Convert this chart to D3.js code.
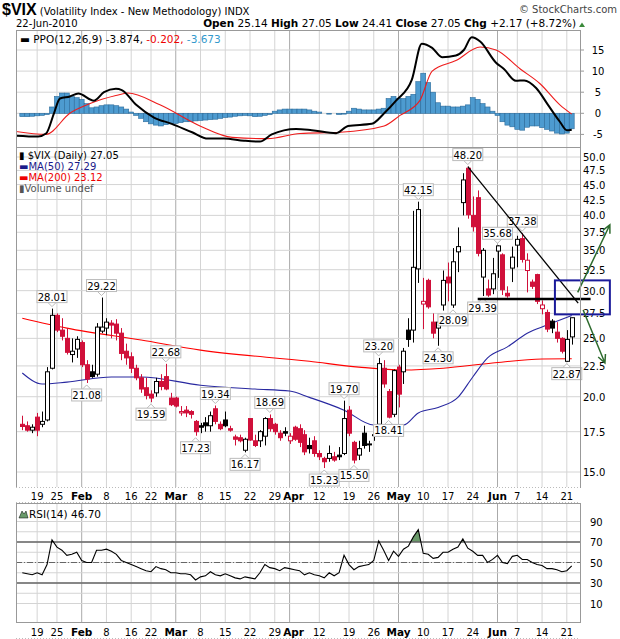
<!DOCTYPE html>
<html><head><meta charset="utf-8">
<script src="https://cdn.jsdelivr.net/npm/d3@7/dist/d3.min.js"></script>
<style>body{margin:0;background:#fff}svg{display:block}text{font-family:"DejaVu Sans",Verdana,sans-serif}</style>
</head><body><svg id="c" width="620" height="639"></svg>
<script>
// ---- DATA ----
// daily OHLC, 112 sessions 13-Jan-2010 .. 22-Jun-2010 (index = session number)
const opens =  [18.0,17.9,17.6,18.5,18.0,18.3,22.3,27.3,25.8,25.0,23.5,24.0,24.6,22.6,22.0,21.8,25.7,26.0,26.5,26.4,25.5,23.8,23.3,22.3,21.5,20.7,20.2,20.3,21.2,21.6,19.9,19.9,18.8,19.0,18.9,18.2,17.9,18.1,17.9,19.1,18.0,18.3,17.7,17.15,17.1,16.3,18.4,16.9,16.9,17.2,18.4,18.0,17.4,17.5,16.9,17.8,17.7,17.3,16.6,16.9,16.1,15.8,15.8,15.9,16.0,16.1,19.0,16.8,16.0,17.4,16.7,17.3,18.0,22.3,20.4,18.7,22.4,22.0,25.8,25.8,32.6,28.5,31.2,26.6,26.0,28.4,31.6,28.4,34.8,42.0,47.9,40.0,42.8,31.6,30.2,30.2,34.9,34.4,29.7,32.7,35.7,36.6,32.4,31.0,31.9,28.0,27.6,26.7,25.6,25.0,22.9,25.14];
const highs =  [18.6,18.2,18.0,18.8,18.9,22.4,28.01,27.5,27.0,26.0,25.0,25.2,24.8,23.0,22.6,26.5,29.22,27.0,26.8,26.9,26.0,24.5,23.7,22.6,21.8,21.5,20.5,21.5,21.8,22.68,20.3,20.0,19.3,19.3,19.0,18.3,18.1,18.5,18.9,19.34,18.2,18.9,17.9,17.3,17.3,17.1,18.4,17.3,17.6,18.5,18.69,18.1,17.6,17.8,17.4,17.9,18.0,17.6,17.1,17.2,16.3,15.9,16.6,16.2,16.5,19.70,19.3,16.9,16.9,17.9,16.9,17.5,23.20,23.0,20.6,22.2,22.6,24.1,27.0,40.7,42.15,31.5,31.4,27.5,26.7,32.4,33.4,35.3,38.2,47.0,48.20,43.0,44.0,35.3,31.3,34.0,35.68,34.6,30.5,35.5,37.0,37.38,34.6,31.3,32.0,28.9,27.9,26.9,26.6,25.1,25.8,27.05];
const lows =   [17.6,17.5,17.4,17.2,17.8,18.2,22.2,25.6,24.8,23.5,22.8,23.2,22.4,21.08,21.5,21.6,25.5,25.3,25.0,24.8,23.0,22.6,21.9,21.3,20.3,19.8,19.59,20.0,20.5,20.5,19.3,19.2,18.6,18.5,18.4,17.23,17.4,17.5,17.5,18.0,17.6,17.8,17.5,16.6,16.8,16.17,16.9,16.5,16.5,16.6,17.5,17.3,16.9,17.2,16.7,16.9,16.5,16.0,16.1,15.9,15.7,15.23,15.6,15.6,15.7,16.0,17.2,15.50,15.7,16.4,16.2,16.9,17.9,20.7,18.41,18.5,19.2,21.0,24.2,24.6,30.9,25.9,28.0,25.0,24.30,27.8,28.8,28.09,32.2,40.0,39.5,37.6,34.2,29.39,29.3,29.6,31.5,29.5,29.2,31.0,32.8,33.4,29.8,30.2,28.5,27.4,25.6,25.5,24.6,23.6,22.87,24.41];
const closes = [17.85,17.6,17.8,17.6,18.2,22.0,27.3,25.8,25.2,23.7,23.8,24.9,22.6,21.4,21.6,26.1,26.1,26.6,26.3,25.5,23.6,23.2,22.3,21.5,20.6,20.1,19.9,21.2,20.8,20.6,19.4,19.3,18.9,18.8,18.7,17.5,17.8,17.9,18.6,18.2,17.7,17.9,17.6,17.0,16.9,17.0,16.95,16.6,17.5,18.4,17.7,17.5,17.1,17.4,17.2,17.0,16.8,16.2,16.4,16.1,15.9,15.6,16.1,15.7,15.9,18.4,17.4,15.7,16.4,16.6,16.7,17.3,22.7,21.0,18.5,22.1,20.2,23.8,24.9,32.8,40.9,28.8,28.2,25.5,26.6,31.2,30.9,33.5,35.5,45.8,40.1,38.3,34.6,35.0,29.5,32.0,35.6,30.1,29.4,34.1,36.5,33.8,33.7,30.5,28.8,28.4,25.9,26.0,25.0,23.8,24.9,27.05];
// moving averages: [session, value]
const ma50  = [[0,21.9],[4,21.0],[9,21.15],[18,21.57],[24,21.57],[36,20.9],[47,20.6],[54,20.44],[58,19.95],[65,19.0],[71,17.95],[77,17.95],[80,18.8],[84,19.2],[88,19.95],[91,21.57],[94,23.2],[98,24.2],[102,25.5],[106,26.3],[111,27.29]];
const ma200 = [[0,27.0],[9,26.0],[24,24.84],[36,23.9],[58,22.9],[68,22.4],[77,22.15],[85,22.3],[95,22.75],[105,23.1],[111,23.12]];
// PPO(12,26,9): [session, value]
const ppoLine = [[-1.3,-5.3],[3.2,-5.5],[4.8,-4.8],[6.4,0],[7.6,3.5],[9.6,4],[11.3,4.7],[14.5,3],[16.5,5],[18.9,5.8],[20.1,5.5],[23,2],[26.6,-1],[30.2,-2.5],[34.3,-4.5],[37.5,-6],[40.7,-6],[44.8,-6.5],[48,-6.7],[50.4,-5],[55.3,-3.7],[58.5,-4],[63.4,-4.7],[65.8,-3],[70.6,-2.5],[73.1,0],[75.5,3],[78.7,8],[80.7,16.5],[82.8,15.5],[84.8,13.3],[87.6,13.7],[89.2,15],[90.8,18],[92.5,17],[95.7,12],[97.3,10.5],[99.7,7.7],[101.4,7.8],[103.8,6],[106.2,2],[108.6,-2],[110,-4],[111,-3.874]];
const ppoSignal = [[-1.3,-4.3],[4.8,-5],[9.6,0],[13.7,2.3],[18.9,4.2],[21.3,4.8],[27.8,2],[35.9,-3],[42.4,-5.7],[49.6,-6],[56.1,-4.8],[64.2,-4.5],[73.1,-3],[76.3,-0.5],[80.3,3],[82.8,10],[87.6,12.5],[92.5,15.7],[95.7,15],[100.6,10.5],[104.6,7],[108.6,2],[111,-0.202]];
const ppoHist = [-0.8,-0.8,-0.7,-0.6,-0.5,-0.3,1.5,4,4.8,4.8,4,3.7,3.3,2.3,1.3,1.5,1.8,2,2,1.8,1.5,1,0.3,-0.5,-1.2,-2,-2.5,-2.8,-3,-2.7,-2.5,-2.4,-2.2,-2,-2,-1.8,-1.7,-1.6,-1.5,-1.4,-1.2,-1,-0.9,-0.7,-0.6,-0.5,-0.6,-0.8,-0.7,-0.5,-0.3,0.5,0.8,1,1,1,1,1,0.8,0.5,0.3,0,-0.2,0,-0.3,-0.2,0.5,1.2,1,0.8,0.8,0.8,1,1.2,3.5,4,3.5,3.5,4,4.5,7.5,9.5,7.3,5,2.5,1.7,1.7,1.5,1.5,1.7,2,3.7,3.3,2.3,1.5,0.5,-0.5,-2,-2.8,-3.2,-3.8,-4,-3.3,-3,-3,-3.4,-3.8,-4.2,-4.7,-4.9,-4.7,-3.673];
const rsi = [40,39,38,40,38,48,72,65,62,57,58,60,52,50,50,62,62,63,61,58,52,50,48,46,44,42,41,46,44,43,40,40,39,39,38,33,36,37,41,38,37,39,37,35,34,36,35,34,40,48,45,44,42,45,44,43,42,38,40,38,37,35,40,37,40,57,48,43,46,47,48,52,71,62,52,61,56,63,66,75,82,59,58,54,55,60,60,63,65,73,64,61,57,57,50,53,57,50,49,56,57,53,53,50,48,47,44,44,43,41,42,46.7];
// date axis: [session, label, month?]
const dateTicks = [[3,"19",0],[7,"25",0],[12,"Feb",1],[17,"8",0],[22,"16",0],[26,"22",0],[31,"Mar",1],[36,"8",0],[41,"15",0],[46,"22",0],[51,"29",0],[54,"Apr",1],[60,"12",0],[66,"19",0],[71,"26",0],[76,"May",1],[81,"10",0],[86,"17",0],[91,"24",0],[96,"Jun",1],[100,"7",0],[105,"14",0],[110,"21",0]];
const priceTicks = [15,17.5,20,22.5,25,27.5,30,32.5,35,37.5,40,42.5,45,47.5,50];
const ppoTicks = [15,10,5,0,-5];
const rsiTicks = [90,70,50,30,10];
// annotated highs / lows: [session, value, "h"|"l"]
const notes = [[6,28.01,"h"],[16,29.22,"h"],[29,22.68,"h"],[39,19.34,"h"],[50,18.69,"h"],[65,19.70,"h"],[72,23.20,"h"],[80,42.15,"h"],[90,48.20,"h"],[96,35.68,"h"],[101,37.38,"h"],
  [13,21.08,"l"],[26,19.59,"l"],[35,17.23,"l"],[45,16.17,"l"],[61,15.23,"l"],[67,15.50,"l"],[74,18.41,"l"],[84,24.30,"l"],[87,28.09,"l"],[93,29.39,"l"],[110,22.87,"l"]];
// hand-drawn annotations in data terms [session, price]
const trendDown = [[90,48.2],[112.3,28.6]];
const support = [[92,29.05],[114.8,29.05]];
const box = [[107.6,31.2],[118.7,27.4]];
const arrowUp = [[112.2,29.8],[118.7,38.6]];
const arrowDn = [[113.3,27.86],[117.7,22.75]];

// ---- CHART ----
const svg = d3.select("#c");
const L=16, R=580, RED="#d0103a";
const x = d3.scaleLinear().domain([0,111]).range([22.3,571.75]);
const P = {top:30,bot:147}, M={top:147,bot:487}, Q={top:503,bot:622};
const yP = d3.scaleLinear().domain([0,15]).range([113.3,50]);
const yM = d3.scaleLog().domain([15,50]).range([472,157]);
const yR = d3.scaleLinear().domain([50,70]).range([562.5,542]);
const grid="#d4d4d4";

function panel(p){
  svg.append("rect").attr("x",L).attr("y",p.top).attr("width",R-L).attr("height",p.bot-p.top).attr("fill","#fff");
}
function vgrid(p){
  dateTicks.forEach(t=>svg.append("line").attr("x1",x(t[0])).attr("x2",x(t[0])).attr("y1",p.top).attr("y2",p.bot)
    .attr("stroke",t[2]?"#aaa":grid).attr("stroke-width",1));
}
function border(p){
  svg.append("rect").attr("x",L+0.5).attr("y",p.top+0.5).attr("width",R-L).attr("height",p.bot-p.top).attr("fill","none").attr("stroke","#999");
}
[P,M,Q].forEach(p=>{panel(p);vgrid(p);});
function clip(id,p){svg.append("clipPath").attr("id",id).append("rect").attr("x",L).attr("y",p.top).attr("width",R-L).attr("height",p.bot-p.top);}
clip("cP",P);clip("cM",M);clip("cQ",Q);

// header
const hd = svg.append("text").attr("x",2).attr("y",15);
hd.append("tspan").text("$VIX").attr("font-weight","bold").attr("font-size",16).attr("font-family","Liberation Sans,Arial");
hd.append("tspan").text(" (Volatility Index - New Methodology) INDX").attr("font-size",10);
svg.append("text").attr("x",617).attr("y",13).attr("text-anchor","end").attr("font-size",10).attr("fill","#444").text("© StockCharts.com");
svg.append("text").attr("x",16).attr("y",27).attr("font-size",10).text("22-Jun-2010");
const ohlc = svg.append("text").attr("x",576).attr("y",27).attr("text-anchor","end").attr("font-size",10.5).attr("font-family","Liberation Sans,Arial");
[["Open"," 25.14  "],["High"," 27.05  "],["Low"," 24.41  "],["Close"," 27.05  "],["Chg"," +2.17 (+8.72%)"]].forEach(a=>{
  ohlc.append("tspan").attr("font-weight","bold").text(a[0]); ohlc.append("tspan").text(a[1]);});
svg.append("path").attr("d","M579,27 l3,-4.5 l3,4.5 z").attr("fill","#3a8a3a");

// PPO panel
ppoTicks.forEach(v=>{svg.append("line").attr("x1",L).attr("x2",R).attr("y1",yP(v)).attr("y2",yP(v)).attr("stroke",grid);
  svg.append("text").attr("x",598).attr("y",yP(v)+4).attr("text-anchor","middle").attr("font-size",10).text(v);
  svg.append("line").attr("x1",R).attr("x2",R+4).attr("y1",yP(v)).attr("y2",yP(v)).attr("stroke","#999");});
const gP = svg.append("g").attr("clip-path","url(#cP)");
gP.selectAll("rect.h").data(ppoHist).join("rect").attr("x",(d,i)=>x(i)-2.5).attr("width",4.95)
  .attr("y",d=>Math.min(yP(d),yP(0))).attr("height",d=>Math.abs(yP(d)-yP(0)))
  .attr("fill","#4d9bd0").attr("stroke","#2a6a9a").attr("stroke-width",0.6);
const lnP = d3.line().x(d=>x(d[0])).y(d=>yP(d[1])).curve(d3.curveMonotoneX);
gP.append("path").attr("d",lnP(ppoSignal)).attr("fill","none").attr("stroke","#ee1c1c").attr("stroke-width",1.1);
gP.append("path").attr("d",lnP(ppoLine)).attr("fill","none").attr("stroke","#000").attr("stroke-width",2);
const pl = svg.append("text").attr("x",20).attr("y",43).attr("font-size",10.5);
pl.append("tspan").text("▬ PPO(12,26,9) -3.874, ");
pl.append("tspan").attr("fill","#e00").text("-0.202, ");
pl.append("tspan").attr("fill","#3399cc").text("-3.673");
border(P);

// price panel
priceTicks.forEach(v=>{svg.append("line").attr("x1",L).attr("x2",R).attr("y1",yM(v)).attr("y2",yM(v)).attr("stroke",grid);
  svg.append("text").attr("x",583).attr("y",yM(v)+4).attr("font-size",10).text(v.toFixed(1));});
const gM = svg.append("g").attr("clip-path","url(#cM)");
const lnM = d3.line().x(d=>x(d[0])).y(d=>yM(d[1])).curve(d3.curveMonotoneX);
gM.append("path").attr("d",lnM(ma200)).attr("fill","none").attr("stroke","#f00").attr("stroke-width",1.1);
gM.append("path").attr("d",lnM(ma50)).attr("fill","none").attr("stroke","#2828a0").attr("stroke-width",1.1);
closes.forEach((c,i)=>{
  const o=opens[i], prev=i?closes[i-1]:o, col=c<prev?RED:"#000", filled=c<o;
  const xc=Math.round(x(i))+0.5;
  gM.append("line").attr("x1",xc).attr("x2",xc).attr("y1",yM(highs[i])).attr("y2",yM(lows[i])).attr("stroke",col).attr("stroke-width",1);
  const y1=yM(Math.max(o,c)), y2=yM(Math.min(o,c));
  gM.append("rect").attr("x",xc-2).attr("y",y1).attr("width",4).attr("height",Math.max(1,y2-y1))
    .attr("fill",filled?col:"#fff").attr("stroke",col).attr("stroke-width",1);
});
// annotations
notes.forEach(n=>{
  const t=n[1].toFixed(2), xc=x(n[0]), w=30, h=13;
  const g=svg.append("g");
  if(n[2]==="h"){const yb=yM(n[1])-5;
    g.append("path").attr("d",`M${xc-4},${yb-1}L${xc},${yb+3}L${xc+4},${yb-1}`).attr("fill","#fff").attr("stroke","#bbb");
    g.append("rect").attr("x",xc-w/2).attr("y",yb-h).attr("width",w).attr("height",h-1).attr("fill","#fff").attr("stroke","#bbb");
    g.append("text").attr("x",xc).attr("y",yb-3).attr("text-anchor","middle").attr("font-size",10).text(t);
  } else {const yt=yM(n[1])+5;
    g.append("path").attr("d",`M${xc-4},${yt+1}L${xc},${yt-3}L${xc+4},${yt+1}`).attr("fill","#fff").attr("stroke","#bbb");
    g.append("rect").attr("x",xc-w/2).attr("y",yt+1).attr("width",w).attr("height",h-1).attr("fill","#fff").attr("stroke","#bbb");
    g.append("text").attr("x",xc).attr("y",yt+11).attr("text-anchor","middle").attr("font-size",10).text(t);
  }
});
// hand-drawn lines
const pt=d=>[x(d[0]),yM(d[1])];
svg.append("line").attr("x1",pt(trendDown[0])[0]).attr("y1",pt(trendDown[0])[1]).attr("x2",pt(trendDown[1])[0]).attr("y2",pt(trendDown[1])[1]).attr("stroke","#000").attr("stroke-width",1.3);
svg.append("line").attr("x1",pt(support[0])[0]).attr("y1",pt(support[0])[1]).attr("x2",pt(support[1])[0]).attr("y2",pt(support[1])[1]).attr("stroke","#000").attr("stroke-width",2.5);
const b0=pt(box[0]), b1=pt(box[1]);
svg.append("rect").attr("x",b0[0]).attr("y",b0[1]).attr("width",b1[0]-b0[0]).attr("height",b1[1]-b0[1]).attr("fill","none").attr("stroke","#1a1a9a").attr("stroke-width",2);
function arrow(a){const p0=pt(a[0]),p1=pt(a[1]);const ang=Math.atan2(p1[1]-p0[1],p1[0]-p0[0]);
  const hl=9;const h1=[p1[0]-hl*Math.cos(ang-0.45),p1[1]-hl*Math.sin(ang-0.45)],h2=[p1[0]-hl*Math.cos(ang+0.45),p1[1]-hl*Math.sin(ang+0.45)];
  svg.append("path").attr("d",`M${p0}L${p1}M${h1}L${p1}L${h2}`).attr("fill","none").attr("stroke","#2e6b2e").attr("stroke-width",1.5);}
arrow(arrowUp);arrow(arrowDn);
const lg=[["▮ $VIX (Daily) 27.05","#000"],["▬MA(50) 27.29","#1a1a8a"],["▬MA(200) 23.12","#e00"],["▮Volume undef","#555"]];
lg.forEach((l,i)=>svg.append("text").attr("x",19).attr("y",159+i*11).attr("font-size",10).attr("fill",l[1]).text(l[0]));
border(M);

// date label rows
[[487,503,497],[622,639,633]].forEach(r=>{
  svg.append("rect").attr("x",L).attr("y",r[0]).attr("width",R-L).attr("height",r[1]-r[0]).attr("fill","#fff");
  svg.append("line").attr("x1",L).attr("x2",R).attr("y1",r[0]+0.5).attr("y2",r[0]+0.5).attr("stroke","#bbb").attr("stroke-dasharray","1,2");
  svg.append("line").attr("x1",L).attr("x2",R).attr("y1",r[1]-0.5).attr("y2",r[1]-0.5).attr("stroke","#bbb").attr("stroke-dasharray","1,2");
  dateTicks.forEach(t=>svg.append("text").attr("x",x(t[0])+(t[1]==="Apr"?4:0)).attr("y",r[2]+3).attr("text-anchor","middle").attr("font-size",t[2]?10.5:10)
    .attr("font-weight",t[2]?"bold":"normal").attr("font-family",t[2]?"Liberation Sans,Arial":null).text(t[1]));
});

// RSI panel
d3.range(10,100,10).forEach(v=>svg.append("line").attr("x1",L).attr("x2",R).attr("y1",yR(v)).attr("y2",yR(v)).attr("stroke",grid));
const gQ = svg.append("g").attr("clip-path","url(#cQ)");
svg.append("clipPath").attr("id","c70").append("rect").attr("x",L).attr("y",Q.top).attr("width",R-L).attr("height",yR(70)-Q.top);
const lnR = d3.line().x((d,i)=>x(i)).y(d=>yR(d));
gQ.append("path").attr("clip-path","url(#c70)").attr("d",d3.area().x((d,i)=>x(i)).y0(yR(70)).y1(d=>yR(d))(rsi)).attr("fill","#6a9a6a");
[70,30].forEach(v=>gQ.append("line").attr("x1",L).attr("x2",R).attr("y1",yR(v)).attr("y2",yR(v)).attr("stroke","#666").attr("stroke-width",1.3));
gQ.append("line").attr("x1",L).attr("x2",R).attr("y1",yR(50)).attr("y2",yR(50)).attr("stroke","#666").attr("stroke-dasharray","6,2,1,2");
gQ.append("path").attr("d",lnR(rsi)).attr("fill","none").attr("stroke","#000").attr("stroke-width",1.1);
rsiTicks.forEach(v=>svg.append("text").attr("x",590).attr("y",yR(v)+4).attr("font-size",10).text(v));
svg.append("path").attr("d","M19,518 l3,-7 l2,3 l2,-3 l2,7 z").attr("fill","#6a9a6a").attr("stroke","#000").attr("stroke-width",0.5);
svg.append("text").attr("x",29).attr("y",518).attr("font-size",10.5).text("RSI(14) 46.70");
border(Q);
</script></body></html>
